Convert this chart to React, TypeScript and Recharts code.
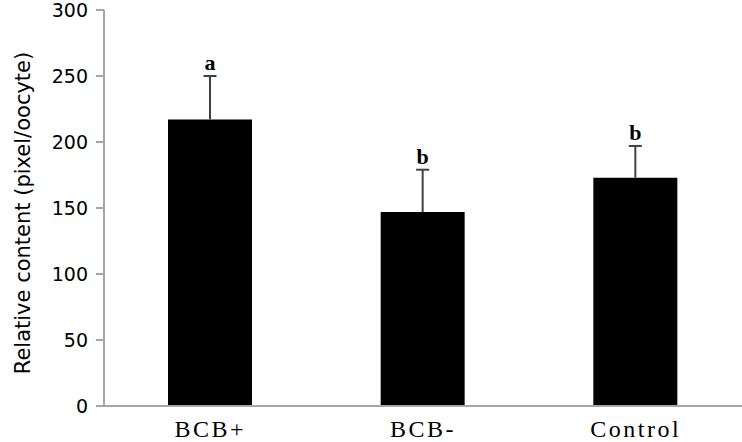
import {
  ComposedChart,
  Bar,
  XAxis,
  YAxis,
  LabelList,
  Label,
} from 'recharts';

const groups = ['BCB+', 'BCB-', 'Control'];
const means = [217, 147, 173];
const errors = [33, 32, 24];
const letters = ['a', 'b', 'b'];
const yTicks = [0, 50, 100, 150, 200, 250, 300];

const data = groups.map((g, i) => ({
  group: g,
  mean: means[i],
  err: errors[i],
  letter: letters[i],
}));

const axisGrey = '#a6a6a6';

// upper-only error bar drawn as a stacked segment on top of the mean bar
const ErrShape = (props: any) => {
  const { x, y, width, height } = props;
  const cx = x + width / 2;
  return (
    <g stroke="#404040" strokeWidth={2}>
      <line x1={cx} y1={y + height} x2={cx} y2={y} />
      <line x1={cx - 6.5} y1={y} x2={cx + 6.5} y2={y} />
    </g>
  );
};

export default function App() {
  return (
    <div style={{ position: 'absolute', left: 0, top: 0, background: '#fff' }}>
      <ComposedChart
        width={742}
        height={442}
        data={data}
        margin={{ top: 10, right: 0, left: 0, bottom: 0 }}
      >
        <XAxis
          dataKey="group"
          height={36}
          tickLine={false}
          tickSize={0}
          tickMargin={14}
          axisLine={{ stroke: axisGrey, strokeWidth: 2 }}
          tick={{ fontSize: 24, fill: '#000', fontFamily: 'Liberation Serif', letterSpacing: 2.5 }}
        />
        <YAxis
          width={104}
          domain={[0, 300]}
          ticks={yTicks}
          interval={0}
          tickSize={8}
          tickMargin={8}
          axisLine={{ stroke: axisGrey, strokeWidth: 2 }}
          tickLine={{ stroke: axisGrey, strokeWidth: 2 }}
          tick={{ fontSize: 19, fill: '#000', fontFamily: 'DejaVu Sans' }}
        >
          <Label
            content={() => (
              <text
                x={23}
                y={213}
                transform="rotate(-90, 23, 213)"
                textAnchor="middle"
                dominantBaseline="central"
                fontSize={21}
                fontFamily="DejaVu Sans"
                fill="#000"
              >
                Relative content (pixel/oocyte)
              </text>
            )}
          />
        </YAxis>
        <Bar dataKey="mean" stackId="s" fill="#000" barSize={84} isAnimationActive={false} />
        <Bar dataKey="err" stackId="s" shape={ErrShape} barSize={84} isAnimationActive={false}>
          <LabelList
            dataKey="letter"
            position="top"
            offset={6}
            style={{ fontSize: 22, fontWeight: 'bold', fontFamily: 'Liberation Serif', fill: '#000' }}
          />
        </Bar>
      </ComposedChart>
    </div>
  );
}
